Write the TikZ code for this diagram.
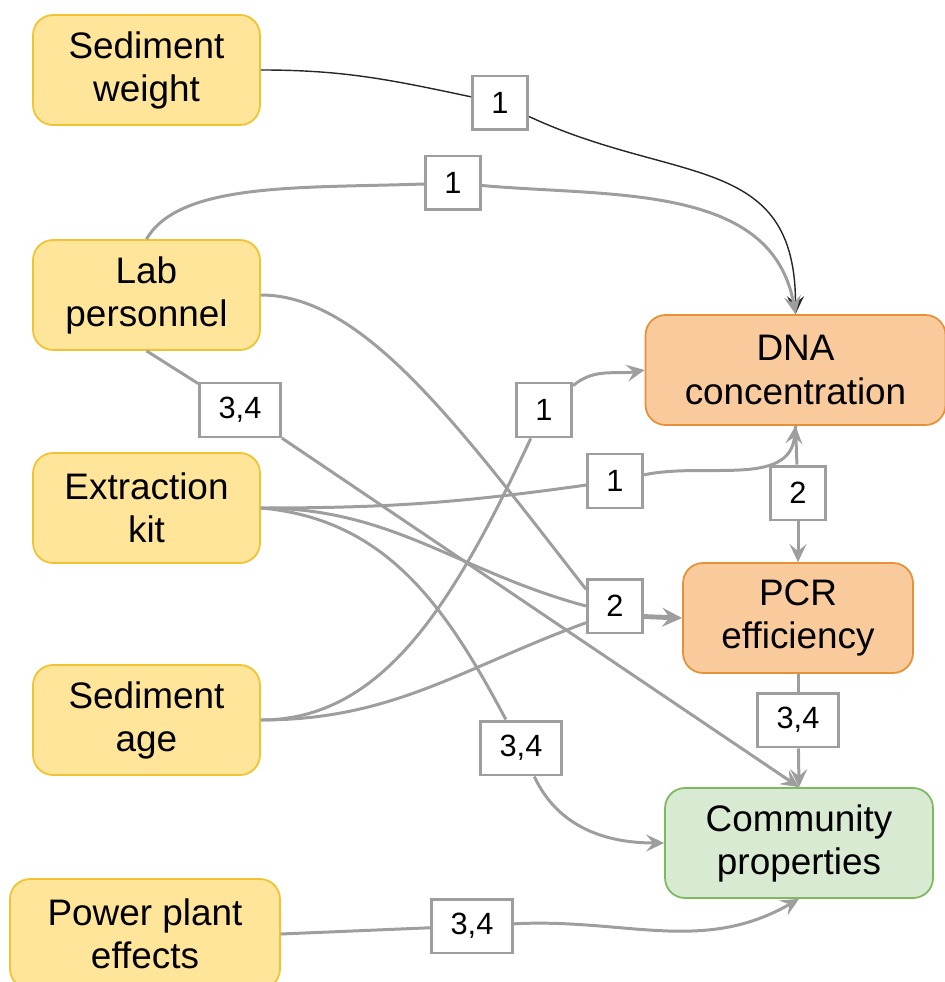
\documentclass[tikz,border=0pt]{standalone}
\usepackage{fontspec}
\setmainfont{Liberation Sans}
\usetikzlibrary{arrows.meta}
\definecolor{inyellow}{HTML}{FFE599}
\definecolor{inyellowline}{HTML}{F1C232}
\definecolor{midorange}{HTML}{F9CB9C}
\definecolor{midorangeline}{HTML}{E69138}
\definecolor{outgreen}{HTML}{D9EAD3}
\definecolor{outgreenline}{HTML}{7CB95F}
\definecolor{linkgray}{HTML}{9E9E9E}
\tikzset{
factor/.style={draw=inyellowline, fill=inyellow, rounded corners=0.4cm,
    minimum width=4.54cm, minimum height=2.2cm, align=center, line width=1pt,
    font=\fontsize{21}{24.5}\selectfont},
mediator/.style={factor, draw=midorangeline, fill=midorange},
outcome/.style={factor, draw=outgreenline, fill=outgreen},
effect/.style={draw=linkgray, fill=white, line width=1.7pt,
    minimum width=1.08cm, minimum height=1.08cm, inner xsep=0.38cm,
    font=\fontsize{17.5}{20}\selectfont},
link/.style={draw=linkgray, line width=1.7pt},
linkarrow/.style={link, -{Stealth[length=0.36cm,width=0.34cm,inset=0.14cm]}},
darklink/.style={draw=black!85, line width=0.8pt},
mergearrow/.style={draw=linkgray, line width=2.8pt,
    -{Stealth[length=0.4cm,width=0.38cm,inset=0.15cm]}},
}
\begin{document}
\begin{tikzpicture}[x=0.02cm,y=-0.02cm]
    \useasboundingbox (0,0) rectangle (944,982);
    \node[factor] (weight) at (146.5,70) {Sediment\\weight};
    \node[factor] (lab) at (146.5,295) {Lab\\personnel};
    \node[factor] (kit) at (146.5,508) {Extraction\\kit};
    \node[factor] (age) at (146.5,720) {Sediment\\age};
    \node[factor, minimum width=5.4cm] (power) at (145,934) {Power plant\\effects};
    \node[mediator, minimum width=6cm] (dna) at (795.5,370) {DNA\\concentration};
    \node[mediator, minimum width=4.6cm] (pcr) at (798,618) {PCR\\efficiency};
    \node[outcome, minimum width=5.36cm] (comm) at (799,843) {Community\\properties};

    \node[effect] (weightlbl) at (500,103) {1};
    \node[effect] (labdnalbl) at (453,183) {1};
    \node[effect] (labcommlbl) at (240,410) {3,4};
    \node[effect] (agednalbl) at (544,410) {1};
    \node[effect] (kitdnalbl) at (615,481) {1};
    \node[effect] (dnapcrlbl) at (798,493) {2};
    \node[effect] (pcrlbl) at (615,606) {2};
    \node[effect] (pcrcommlbl) at (798,720) {3,4};
    \node[effect] (kitcommlbl) at (521,748) {3,4};
    \node[effect] (powerlbl) at (472,926) {3,4};

    \draw[darklink] (weight.east) to[out=0,in=168] (weightlbl);
    \draw[linkarrow, darklink] (weightlbl) to[out=-25,in=90,looseness=1.25] (dna.north);
    \draw[link] (lab.north) to[out=60,in=182,out looseness=0.6,in looseness=1.1] (labdnalbl);
    \draw[linkarrow] (labdnalbl) to[out=-5,in=100] (dna.north);
    \draw[link] (lab.east) to[out=0,in=128,out looseness=0.6,in looseness=1.2] (pcrlbl.150);
    \draw[link] (lab.south) -- (labcommlbl);
    \draw[linkarrow] (labcommlbl) -- (comm.north);

    \draw[link] (kit.east) to[out=0,in=188] (kitdnalbl);
    \draw[linkarrow] (kitdnalbl) to[out=12,in=-95] (dna.south);
    \draw[link] (kit.east) to[out=0,in=165] (pcrlbl.180);
    \draw[link] (kit.east) to[out=-5,in=118] (kitcommlbl);
    \draw[linkarrow] (kitcommlbl) to[out=-65,in=180] (comm.west);

    \draw[link] (age.east) to[out=0,in=-115,out looseness=0.8,in looseness=1.2] (agednalbl);
    \draw[linkarrow] (agednalbl) to[out=40,in=190] (dna.west);
    \draw[link] (age.east) to[out=0,in=200] (pcrlbl.210);
    \draw[mergearrow] (pcrlbl.-20) -- (pcr.west);

    \draw[link] (dna.south) -- (dnapcrlbl);
    \draw[linkarrow] (dnapcrlbl) -- (pcr.north);
    \draw[link] (pcr.south) -- (pcrcommlbl);
    \draw[linkarrow] (pcrcommlbl) -- (comm.north);

    \draw[link] (power.east) -- (powerlbl);
    \draw[linkarrow] (powerlbl) to[out=3,in=-150] (comm.south);
\end{tikzpicture}
\end{document}
